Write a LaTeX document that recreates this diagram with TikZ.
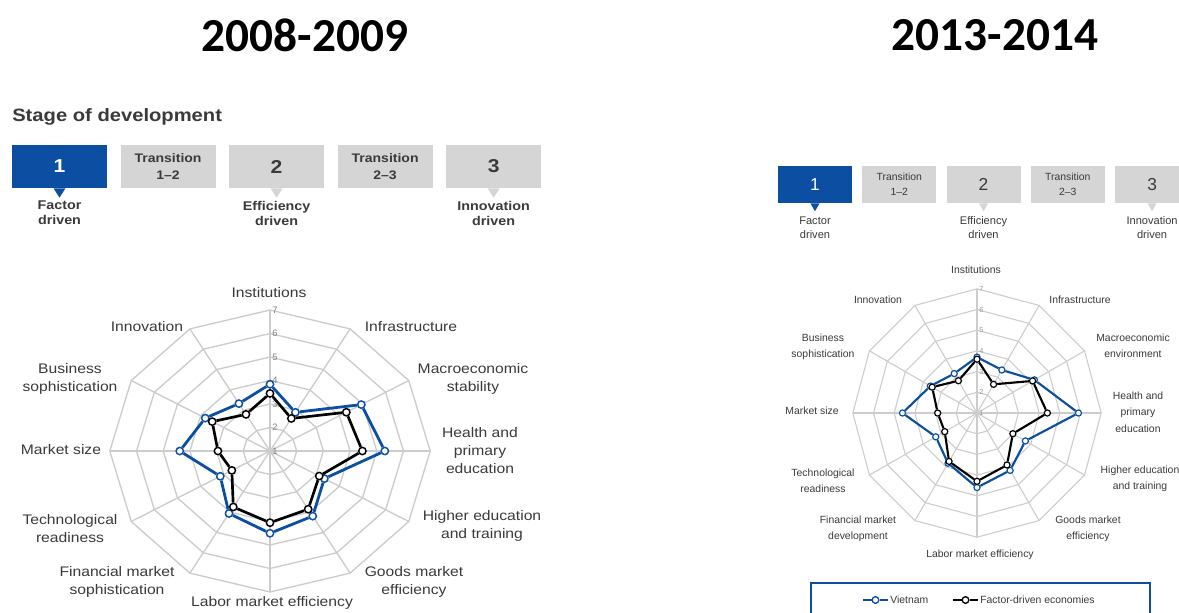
\documentclass[tikz,border=0pt]{standalone}
\usepackage{fontspec}
\setmainfont{Liberation Sans}
\newfontfamily\widefont[FakeStretch=1.13]{Liberation Sans}
\newfontfamily\yearfont{Carlito}
\usetikzlibrary{positioning}
\definecolor{wefblue}{HTML}{0B4EA2}
\definecolor{stagegray}{HTML}{D5D5D5}
\definecolor{gridgray}{HTML}{CCCCCC}
\definecolor{inkgray}{HTML}{3A3A3A}
\tikzset{
    year/.style =     {font=\yearfont\bfseries\fontsize{35.5}{40}\selectfont,
                      text=black,
                      inner sep=0pt},
    stagebig/.style = {rectangle,
                      fill=stagegray,
                      text=inkgray,
                      minimum width=71.25pt,
                      minimum height=32.25pt,
                      inner sep=0pt,
                      align=center,
                      font=\widefont\bfseries\fontsize{9.3}{12.75}\selectfont},
    numbig/.style =   {stagebig,
                      font=\widefont\bfseries\fontsize{14}{16}\selectfont},
    stagesml/.style = {rectangle,
                      fill=stagegray,
                      text=inkgray,
                      minimum width=55.5pt,
                      minimum height=27.75pt,
                      inner sep=0pt,
                      align=center,
                      font=\fontsize{7.8}{11}\selectfont},
    numsml/.style =   {stagesml,
                      font=\fontsize{13}{15}\selectfont},
    current/.style =  {fill=wefblue,
                      text=white},
    drvbig/.style =   {align=center,
                      inner sep=0pt,
                      text=inkgray,
                      font=\widefont\bfseries\fontsize{9.5}{11.25}\selectfont},
    drvsml/.style =   {align=center,
                      inner sep=0pt,
                      text=inkgray,
                      font=\fontsize{8.3}{10.5}\selectfont},
    axisbig/.style =  {align=center,
                      inner sep=0pt,
                      text=inkgray,
                      font=\widefont\fontsize{10.4}{13.5}\selectfont},
    axissml/.style =  {align=center,
                      inner sep=0pt,
                      text=inkgray,
                      font=\fontsize{7.8}{12.4}\selectfont},
    gridline/.style = {draw=gridgray,
                      line width=1pt},
    tick/.style =     {anchor=west,
                      inner sep=1.5pt,
                      text=gray,
                      font=\fontsize{7}{8}\selectfont},
    vdot/.style =     {circle,
                      fill=white,
                      draw=wefblue,
                      line width=1.1pt,
                      inner sep=0pt,
                      minimum size=5.5pt},
    fdot/.style =     {vdot,
                      draw=black},
    vline/.style =    {draw=wefblue,
                      line width=2.1pt},
    fline/.style =    {draw=black,
                      line width=2pt},
    x=0.75pt,
    y=-0.75pt}

\begin{document}
\begin{tikzpicture}
        \useasboundingbox (0,0) rectangle (1179,612);
        \fill[white] (0,0) rectangle (1179,612);

        % years
        \node[year]         (y1) at (305,35)   {2008-2009};
        \node[year]         (y2) at (995,35)   {2013-2014};

        % stage of development, 2008-2009
        \node[anchor=west,inner sep=0pt,text=inkgray,font=\widefont\bfseries\fontsize{13.4}{16}\selectfont]
                            (sod) at (12,117)  {Stage of development};
        \node[numbig,current] (b1) at (59.5,166.5) {1};
        \node[stagebig]     (b2) [right=9.75pt of b1] {Transition\\1–2};
        \node[numbig]       (b3) [right=9.75pt of b2] {2};
        \node[stagebig]     (b4) [right=9.75pt of b3] {Transition\\2–3};
        \node[numbig]       (b5) [right=9.75pt of b4] {3};
        \fill[wefblue]   ([xshift=-4.5pt]b1.south) -- ([xshift=4.5pt]b1.south) -- ([yshift=-7pt]b1.south) -- cycle;
        \fill[stagegray] ([xshift=-4.5pt]b3.south) -- ([xshift=4.5pt]b3.south) -- ([yshift=-7pt]b3.south) -- cycle;
        \fill[stagegray] ([xshift=-4.5pt]b5.south) -- ([xshift=4.5pt]b5.south) -- ([yshift=-7pt]b5.south) -- cycle;
        \node[drvbig]       (d1) [below=9.5pt of b1] {Factor\\driven};
        \node[drvbig]       (d3) [below=9.5pt of b3] {Efficiency\\driven};
        \node[drvbig]       (d5) [below=9.5pt of b5] {Innovation\\driven};

        % stage of development, 2013-2014
        \node[numsml,current] (c1) at (815,184.5) {1};
        \node[stagesml]     (c2) [right=7.3pt of c1] {Transition\\1–2};
        \node[numsml]       (c3) [right=7.3pt of c2] {2};
        \node[stagesml]     (c4) [right=7.3pt of c3] {Transition\\2–3};
        \node[numsml]       (c5) [right=7.3pt of c4] {3};
        \fill[wefblue]   ([xshift=-3.4pt]c1.south) -- ([xshift=3.4pt]c1.south) -- ([yshift=-6pt]c1.south) -- cycle;
        \fill[stagegray] ([xshift=-3.4pt]c3.south) -- ([xshift=3.4pt]c3.south) -- ([yshift=-6pt]c3.south) -- cycle;
        \fill[stagegray] ([xshift=-3.4pt]c5.south) -- ([xshift=3.4pt]c5.south) -- ([yshift=-6pt]c5.south) -- cycle;
        \node[drvsml]       (e1) [below=9.75pt of c1] {Factor\\driven};
        \node[drvsml]       (e3) [below=9.75pt of c3] {Efficiency\\driven};
        \node[drvsml]       (e5) [below=9.75pt of c5] {Innovation\\driven};

        % radar 2008-2009
        \begin{scope}[shift={(270,451)},x=20.025pt,y=-17.625pt]
            \coordinate (lc) at (0,0);
            \foreach \r in {1,...,6}
                \draw[gridline] (0:\r) \foreach \a in {30,60,...,330} {-- (\a:\r)} -- cycle;
            \foreach \a in {0,30,...,330}
                \draw[gridline] (lc) -- (\a:6);
            \foreach \t in {1,...,7}
                \node[tick] at (0,{1-\t}) {\t};
            \foreach \v [count=\i from 0] in {3.84,2.9,4.95,5.3,3.35,4.2,4.5,4.07,3.15,4.38,3.8,3.33}
                \node[vdot] (lv\i) at ({30*\i-90}:{\v-1}) {};
            \foreach \v [count=\i from 0] in {3.45,2.6,4.3,4.46,3.13,3.86,4.05,3.75,2.65,2.95,3.5,2.8}
                \node[fdot] (lf\i) at ({30*\i-90}:{\v-1}) {};
            \foreach \i in {0,...,11} {
                \pgfmathtruncatemacro\j{mod(\i+1,12)}
                \draw[vline] (lv\i) -- (lv\j);
                \draw[fline] (lf\i) -- (lf\j);
            }
        \end{scope}
        \node[axisbig]      (la0)  at (269,293)   {Institutions};
        \node[axisbig]      (la1)  at (411,327)   {Infrastructure};
        \node[axisbig]      (la2)  at (473,379)   {Macroeconomic\\stability};
        \node[axisbig]      (la3)  at (480,451)   {Health and\\primary\\education};
        \node[axisbig]      (la4)  at (482,526)   {Higher education\\and training};
        \node[axisbig]      (la5)  at (414,582)   {Goods market\\efficiency};
        \node[axisbig]      (la6)  at (272,603)   {Labor market efficiency};
        \node[axisbig]      (la7)  at (117,582)   {Financial market\\sophistication};
        \node[axisbig]      (la8)  at (70,529)    {Technological\\readiness};
        \node[axisbig]      (la9)  at (61,450)    {Market size};
        \node[axisbig]      (la10) at (70,379)    {Business\\sophistication};
        \node[axisbig]      (la11) at (147,327)   {Innovation};

        % radar 2013-2014
        \begin{scope}[shift={(977,413)},x=15.525pt,y=-15.525pt]
            \coordinate (rc) at (0,0);
            \foreach \r in {1,...,6}
                \draw[gridline,line width=0.8pt] (0:\r) \foreach \a in {30,60,...,330} {-- (\a:\r)} -- cycle;
            \foreach \a in {0,30,...,330}
                \draw[gridline,line width=0.8pt] (rc) -- (\a:6);
            \foreach \t in {1,...,7}
                \node[tick,font=\fontsize{5.5}{6}\selectfont,text=gray!80] at (0,{1-\t}) {\t};
            \foreach \v [count=\i from 0] in {3.7,3.4,4.2,5.9,3.7,4.2,4.6,3.8,3.3,4.6,3.6,3.2}
                \node[vdot,minimum size=4.6pt,line width=0.9pt] (rv\i) at ({30*\i-90}:{\v-1}) {};
            \foreach \v [count=\i from 0] in {3.6,2.6,4.1,4.4,3.0,3.9,4.3,3.7,2.8,2.9,3.5,2.8}
                \node[fdot,minimum size=4.6pt,line width=0.9pt] (rf\i) at ({30*\i-90}:{\v-1}) {};
            \foreach \i in {0,...,11} {
                \pgfmathtruncatemacro\j{mod(\i+1,12)}
                \draw[vline,line width=1.6pt] (rv\i) -- (rv\j);
                \draw[fline,line width=1.6pt] (rf\i) -- (rf\j);
            }
        \end{scope}
        \node[axissml]      (ra0)  at (976,270)   {Institutions};
        \node[axissml]      (ra1)  at (1080,300)  {Infrastructure};
        \node[axissml]      (ra2)  at (1133,346)  {Macroeconomic\\environment};
        \node[axissml]      (ra3)  at (1138,412)  {Health and\\primary\\education};
        \node[axissml]      (ra4)  at (1140,479)  {Higher education\\and training};
        \node[axissml]      (ra5)  at (1088,529)  {Goods market\\efficiency};
        \node[axissml]      (ra6)  at (980,555)   {Labor market efficiency};
        \node[axissml]      (ra7)  at (858,529)   {Financial market\\development};
        \node[axissml]      (ra8)  at (823,481)   {Technological\\readiness};
        \node[axissml]      (ra9)  at (812,411)   {Market size};
        \node[axissml]      (ra10) at (823,347)   {Business\\sophistication};
        \node[axissml]      (ra11) at (878,300)   {Innovation};

        % legend
        \draw[wefblue,line width=0.9pt] (811,583) rectangle (1150,640);
        \coordinate         (lg1a) at (863,600);
        \coordinate         (lg1b) at (888,600);
        \node[vdot,minimum size=5pt,line width=1pt] (lg1) at (875.5,600) {};
        \node[axissml,anchor=west] (lgt1) at (890,600) {Vietnam};
        \coordinate         (lg2a) at (953,600);
        \coordinate         (lg2b) at (978,600);
        \node[fdot,minimum size=5pt,line width=1pt] (lg2) at (965.5,600) {};
        \node[axissml,anchor=west] (lgt2) at (980,600) {Factor-driven economies};
        \path [vline,line width=1.4pt] (lg1a) edge (lg1) (lg1) edge (lg1b);
        \path [fline,line width=1.4pt] (lg2a) edge (lg2) (lg2) edge (lg2b);
\end{tikzpicture}
\end{document}
